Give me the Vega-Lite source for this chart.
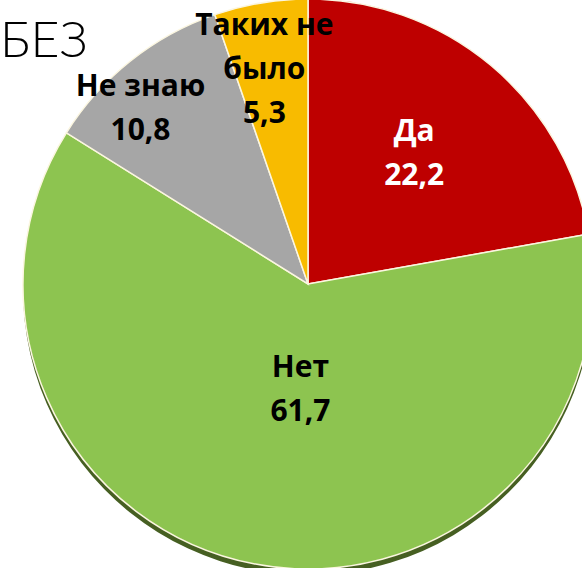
{
  "$schema": "https://vega.github.io/schema/vega-lite/v6.json",
  "width": 616,
  "height": 568,
  "padding": 0,
  "autosize": "none",
  "background": "white",
  "title": {"text": "БЕЗ", "anchor": "start", "frame": "group", "font": "Lato", "fontWeight": 300, "fontSize": 50, "color": "black", "baseline": "top", "offset": -18, "dy": 53},
  "data": {"values": [
    {"cat": "Да", "value": 22.2, "o": 1},
    {"cat": "Нет", "value": 61.7, "o": 2},
    {"cat": "Не знаю", "value": 10.8, "o": 3},
    {"cat": "Таких не было", "value": 5.3, "o": 4}
  ]},
  "transform": [
    {"calculate": "replace(datum.cat, 'не было', 'не\\nбыло') + '\\n' + replace(format(datum.value, '.1f'), '.', ',')", "as": "label"}
  ],
  "encoding": {
    "theta": {"field": "value", "type": "quantitative", "stack": true},
    "order": {"field": "o", "type": "quantitative"}
  },
  "layer": [
    {
      "mark": {"type": "arc", "outerRadius": 285, "yOffset": 6, "color": "#465f22"},
      "encoding": {}
    },
    {
      "mark": {"type": "arc", "outerRadius": 285, "stroke": "#fbf6e0", "strokeWidth": 1.5},
      "encoding": {
        "color": {"field": "cat", "type": "nominal", "legend": null,
          "scale": {"domain": ["Да", "Нет", "Не знаю", "Таких не было"], "range": ["#be0000", "#8dc450", "#a6a6a6", "#f8bb00"]}}
      }
    },
    {
      "mark": {"type": "text", "font": "Open Sans", "fontWeight": "bold", "fontSize": 30, "lineBreak": "\n", "lineHeight": 44,
        "radius": {"expr": "datum.cat == 'Да' ? 170 : datum.cat == 'Нет' ? 108 : datum.cat == 'Не знаю' ? 224 : 215"},
        "dx": {"expr": "datum.cat == 'Нет' ? 13 : datum.cat == 'Не знаю' ? -28 : datum.cat == 'Таких не было' ? -8 : -3"},
        "dy": {"expr": "datum.cat == 'Таких не было' ? -46 : -22"}},
      "encoding": {
        "text": {"field": "label"},
        "color": {"condition": {"test": "datum.cat == 'Да'", "value": "white"}, "value": "black"}
      }
    }
  ]
}
